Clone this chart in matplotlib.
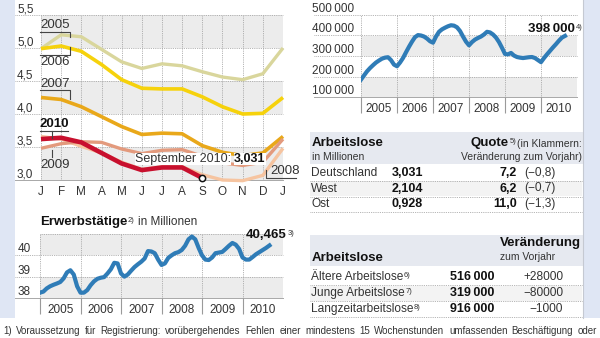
import numpy as np
import matplotlib.pyplot as plt
from matplotlib import font_manager
from matplotlib.transforms import blended_transform_factory
from matplotlib.patches import Rectangle

W, H = 600, 338

installed = {f.name for f in font_manager.fontManager.ttflist}
FONT = 'Liberation Sans Narrow' if 'Liberation Sans Narrow' in installed else 'Liberation Sans'
plt.rcParams['font.family'] = [FONT, 'DejaVu Sans']

# Arbeitslose in Millionen, Januar bis Januar des Folgejahres
months = ['J', 'F', 'M', 'A', 'M', 'J', 'J', 'A', 'S', 'O', 'N', 'D', 'J']
al_2005 = [4.99, 5.20, 5.17, 4.98, 4.79, 4.69, 4.76, 4.73, 4.64, 4.56, 4.52, 4.61, 5.00]
al_2006 = [4.99, 5.03, 4.95, 4.75, 4.52, 4.39, 4.38, 4.38, 4.26, 4.11, 4.00, 4.01, 4.25]
al_2007 = [4.25, 4.22, 4.11, 3.96, 3.81, 3.69, 3.71, 3.70, 3.52, 3.42, 3.37, 3.41, 3.66]
al_2008 = [3.66, 3.62, 3.51, 3.41, 3.27, 3.16, 3.20, 3.20, 3.08, 3.00, 2.99, 3.07, 3.48]
al_2009 = [3.48, 3.55, 3.58, 3.57, 3.47, 3.40, 3.45, 3.46, 3.36, 3.26, 3.22, 3.27, 3.62]
al_2010 = [3.62, 3.64, 3.57, 3.41, 3.25, 3.15, 3.19, 3.19, 3.031]

# offene Stellen, monatlich ab Januar 2005
stellen = [185, 205, 225, 241, 255, 268, 278, 287, 292, 294, 280, 258,
           250, 268, 290, 318, 345, 370, 392, 402, 400, 395, 385, 372,
           365, 395, 418, 430, 438, 445, 450, 448, 440, 422, 395, 370,
           352, 368, 380, 388, 395, 405, 418, 415, 405, 390, 368, 340,
           310, 308, 315, 302, 295, 292, 290, 292, 294, 295, 290, 280,
           270, 290, 308, 325, 342, 358, 375, 390, 398]
stellen = [v * 1000 for v in stellen]

# Erwerbstaetige in Millionen, monatlich ab Januar 2005
erwerb = [38.25, 38.30, 38.45, 38.55, 38.62, 38.68, 38.75, 38.92, 39.20, 39.30, 39.10, 38.55,
          38.25, 38.25, 38.37, 38.60, 38.78, 38.90, 38.95, 38.98, 39.15, 39.35, 39.65, 39.62,
          39.15, 39.00, 39.10, 39.28, 39.45, 39.58, 39.70, 39.85, 40.20, 40.18, 40.10, 39.80,
          39.55, 39.62, 39.88, 40.00, 40.10, 40.15, 40.25, 40.45, 40.75, 40.88, 40.75, 40.35,
          40.00, 39.80, 39.78, 39.90, 40.10, 40.13, 40.16, 40.30, 40.45, 40.58, 40.50, 40.30,
          39.90, 39.80, 39.80, 39.92, 40.05, 40.15, 40.25, 40.35, 40.465]

years = [2005, 2006, 2007, 2008, 2009, 2010]

quote_rows = ['Deutschland', 'West', 'Ost']
quote_total = [3.031, 2.104, 0.928]
quote_rate = [7.2, 6.2, 11.0]
quote_change = [-0.8, -0.7, -1.3]

group_rows = ['Ältere Arbeitslose', 'Junge Arbeitslose', 'Langzeitarbeitslose']
group_notes = ['6)', '7)', '8)']
group_total = [516000, 319000, 916000]
group_change = [28000, -80000, -1000]

note = ('1) Voraussetzung für Registrierung: vorübergehendes Fehlen einer mindestens '
        '15 Wochenstunden umfassenden Beschäftigung oder')

TXT = '#333333'
GRID = '#9c9c9c'
BAND = '#ececec'
BLUE = '#2f7cb7'
STRIP = '#dfe6f4'
HEAD = '#e6e9f0'
DOT = (0, (1, 1.2))


def de(v, nd):
    return f'{v:.{nd}f}'.replace('.', ',').replace('-', '\u2212')


def thousands(v):
    return f'{v:,}'.replace(',', '\u2009')


def px(x0, y0, x1, y1):
    return [x0 / W, 1 - y1 / H, (x1 - x0) / W, (y1 - y0) / H]


fig = plt.figure(figsize=(6, 3.38), dpi=100)
bg = fig.add_axes([0, 0, 1, 1], zorder=-1)
fg = fig.add_axes([0, 0, 1, 1], zorder=10)
for a in (bg, fg):
    a.set_xlim(0, W)
    a.set_ylim(H, 0)
    a.axis('off')
fg.patch.set_alpha(0)

# Randstreifen
bg.add_patch(Rectangle((0, 0), 15, 318, fc=STRIP, ec='none'))
bg.add_patch(Rectangle((583, 0), 17, 318, fc=STRIP, ec='none'))
bg.plot([583, 583], [0, 318], color='#c5c9d2', lw=0.8)


def chart(rect, xlim, ylim, bands, levels, labels, label_x, label_ha, xgrid):
    ax = fig.add_axes(px(*rect))
    ax.set_xlim(*xlim)
    ax.set_ylim(*ylim)
    ax.patch.set_visible(False)
    for s in ax.spines.values():
        s.set_visible(False)
    ax.set_yticks([])
    for lo, hi in bands:
        ax.axhspan(lo, hi, color=BAND, lw=0, zorder=0)
    for x in xgrid:
        ax.axvline(x, color=GRID, lw=0.6, ls=DOT, zorder=1)
    tr = blended_transform_factory(fg.transData, ax.transData)
    for i, (v, lab) in enumerate(zip(levels, labels)):
        x0 = rect[0] if lab is None else 15 if label_ha == 'left' else label_x - 40
        ax.plot([x0, rect[2]], [v, v], transform=tr, clip_on=False,
                color='#a8a8a8' if i == 0 else GRID, lw=0.7 if i == 0 else 0.6,
                ls='-' if i == 0 else DOT, zorder=1)
        if lab is not None:
            ax.text(label_x, v, lab, transform=tr, ha=label_ha, va='bottom',
                    fontsize=8.5, color=TXT, clip_on=False)
    return ax


# Arbeitslose nach Monaten
ax1 = chart((41, 15, 283, 180), (0, 12), (3.0, 5.5),
            [(3.0, 3.5), (4.0, 4.5), (5.0, 5.5)],
            [3.0, 3.5, 4.0, 4.5, 5.0, 5.5], [de(v, 1) for v in [3.0, 3.5, 4.0, 4.5, 5.0, 5.5]],
            17, 'left', range(13))
ax1.set_xticks(range(13))
ax1.set_xticklabels(months)
ax1.tick_params(axis='x', length=0, pad=4.5, labelsize=8.5, labelcolor=TXT)

series = [(al_2005, '#d9d69c', 2.4), (al_2006, '#f6d20c', 2.6), (al_2007, '#e9a81a', 2.6),
          (al_2008, '#f6c4a0', 2.4), (al_2009, '#e39a7d', 2.4), (al_2010, '#c8102e', 3.3)]
for i, (vals, col, lw) in enumerate(series):
    ax1.plot(range(len(vals)), vals, color=col, lw=lw, zorder=3 + i,
             solid_capstyle='butt', solid_joinstyle='round', clip_on=False)
ax1.plot(len(al_2010) - 1, al_2010[-1], 'o', ms=4.5, mfc='white', mec='#111111',
         mew=1.1, zorder=10, clip_on=False)

lead = dict(color='#444444', lw=0.8)
fg.text(40, 25, '2005', fontsize=9.5, color=TXT, va='center')
fg.plot([40, 70, 70], [32, 32, 37], **lead)
fg.text(40, 62, '2006', fontsize=9.5, color=TXT, va='center')
fg.plot([40, 70, 70], [55, 55, 47], **lead)
fg.text(40, 84, '2007', fontsize=9.5, color=TXT, va='center')
fg.plot([40, 70, 70], [90, 90, 99], **lead)
fg.text(40, 124, '2010', fontsize=9.5, color='#111111', weight='bold', va='center')
fg.plot([40, 68], [131, 131], **lead)
fg.plot([52, 52], [131, 138], **lead)
fg.text(40, 165, '2009', fontsize=9.5, color=TXT, va='center')
fg.plot([52, 52], [150, 157], **lead)
fg.text(270, 171, '2008', fontsize=9.5, color=TXT, va='center')
fg.plot([266, 266, 296], [170, 178, 178], **lead)

sep = fg.text(135, 159, 'September 2010:', fontsize=9, color=TXT, va='center',
              bbox=dict(fc='white', ec='none', pad=0.2))
fg.annotate(de(al_2010[-1], 3), xy=(1, 0.5), xycoords=sep, xytext=(2, 0),
            textcoords='offset points', fontsize=9, weight='bold', color='#111111',
            va='center', bbox=dict(fc='white', ec='none', pad=0.2))

# offene Stellen
t_st = [2005 + m / 12 for m in range(len(stellen))]
lv = [100000, 200000, 300000, 400000, 500000]
ax2 = chart((361, 15, 577, 97), (2005, 2011), (100000, 500000),
            [(100000, 200000), (300000, 400000)],
            lv, [thousands(v) for v in lv], 354, 'right', years)
ax2.plot(t_st, stellen, color=BLUE, lw=3.0, zorder=5, solid_joinstyle='round')

# Erwerbstaetige
t_ew = [2005 + m / 12 for m in range(len(erwerb))]
ax3 = chart((40, 234, 283, 298), (2005, 2011), (38, 41),
            [(38, 39), (40, 41)],
            [38, 39, 40, 41], ['38', '39', '40', None], 18, 'left', years)
ax3.plot(t_ew, erwerb, color=BLUE, lw=3.0, zorder=5, solid_joinstyle='round')

for ax in (ax2, ax3):
    ax.set_xticks(years + [2011])
    ax.set_xticklabels([])
    ax.set_xticks([y + 0.5 for y in years], [str(y) for y in years], minor=True)
    ax.tick_params(axis='x', which='major', length=11.5, width=0.8, color='#9a9a9a', direction='out')
    ax.tick_params(axis='x', which='minor', length=0, pad=4, labelsize=8.5, labelcolor=TXT)
    ax.xaxis.get_major_ticks()[-1].tick1line.set_visible(False)

lbl = fg.text(575, 29, thousands(stellen[-1]), fontsize=9.5, weight='bold',
              color='#111111', ha='right', va='center')
fg.annotate('4)', xy=(1, 1), xycoords=lbl, xytext=(0.5, -1), textcoords='offset points',
            fontsize=5.5, color=TXT, va='top')

lbl = fg.text(287, 235, de(erwerb[-1], 3), fontsize=9.5, weight='bold',
              color='#111111', ha='right', va='center')
fg.annotate('3)', xy=(1, 1), xycoords=lbl, xytext=(0.5, -1), textcoords='offset points',
            fontsize=5.5, color=TXT, va='top')

ttl = fg.text(40, 222, 'Erwerbstätige', fontsize=9.5, weight='bold', color='#111111', va='center')
fg.annotate('2)', xy=(1, 1), xycoords=ttl, xytext=(0.5, -1), textcoords='offset points',
            fontsize=5.5, color=TXT, va='top')
fg.annotate('in Millionen', xy=(1, 0), xycoords=ttl, xytext=(8, 0), textcoords='offset points',
            fontsize=8.5, color=TXT, va='bottom')


def dotted(y):
    bg.plot([310, 582], [y, y], color=GRID, lw=0.6, ls=DOT)


# Tabelle Quote
bg.add_patch(Rectangle((310, 132), 273, 32, fc=HEAD, ec='none'))
bg.text(312, 143, 'Arbeitslose', fontsize=9.5, weight='bold', color='#111111', va='center')
bg.text(312, 157, 'in Millionen', fontsize=7.5, color=TXT, va='center')
q = bg.text(509, 143, 'Quote', fontsize=9.5, weight='bold', color='#111111', va='center', ha='right')
bg.annotate('5)', xy=(1, 1), xycoords=q, xytext=(0.5, -1), textcoords='offset points',
            fontsize=5.5, color=TXT, va='top')
bg.text(582, 144, '(in Klammern:', fontsize=7.5, color=TXT, va='center', ha='right')
bg.text(582, 157, 'Veränderung zum Vorjahr)', fontsize=7.5, color=TXT, va='center', ha='right')
for i, (name, tot, rate, chg) in enumerate(zip(quote_rows, quote_total, quote_rate, quote_change)):
    y = 173 + i * 15.5
    if i == 1:
        bg.add_patch(Rectangle((310, y - 7.5), 272, 15, fc='#f3f3f3', ec='none'))
    bg.text(311, y, name, fontsize=8.6, color=TXT, va='center')
    bg.text(423, y, de(tot, 3), fontsize=9, weight='bold', color='#111111', va='center', ha='right')
    bg.text(517, y, de(rate, 1), fontsize=9, weight='bold', color='#111111', va='center', ha='right')
    bg.text(524, y, '(' + de(chg, 1) + ')', fontsize=8.6, color=TXT, va='center')
    dotted(y + 8)

# Tabelle Personengruppen
bg.add_patch(Rectangle((310, 235), 273, 31, fc=HEAD, ec='none'))
bg.text(312, 258, 'Arbeitslose', fontsize=9.5, weight='bold', color='#111111', va='center')
bg.text(500, 243, 'Veränderung', fontsize=9.5, weight='bold', color='#111111', va='center')
bg.text(500, 257, 'zum Vorjahr', fontsize=7.5, color=TXT, va='center')
for i, (name, nt, tot, chg) in enumerate(zip(group_rows, group_notes, group_total, group_change)):
    y = 277 + i * 16
    if i == 1:
        bg.add_patch(Rectangle((310, y - 7.5), 272, 15.5, fc='#f3f3f3', ec='none'))
    t = bg.text(311, y, name, fontsize=8.6, color=TXT, va='center')
    bg.annotate(nt, xy=(1, 1), xycoords=t, xytext=(0.3, -1), textcoords='offset points',
                fontsize=5.5, color=TXT, va='top')
    bg.text(494, y, thousands(tot), fontsize=9, weight='bold', color='#111111', va='center', ha='right')
    sign = '+' if chg > 0 else '\u2212'
    bg.text(563, y, sign + str(abs(chg)), fontsize=8.6, color=TXT, va='center', ha='right')
    dotted(y + 8)

# Fussnote im Blocksatz
renderer = fig.canvas.get_renderer()
words = note.split()
texts = [bg.text(0, 331, w, fontsize=7, color=TXT, va='center') for w in words]
widths = [t.get_window_extent(renderer).width for t in texts]
gap = (594 - sum(widths)) / (len(words) - 1)
x = 3
for t, w in zip(texts, widths):
    t.set_x(x)
    x += w + gap

fig.savefig('out.png', dpi=100, facecolor='white')
